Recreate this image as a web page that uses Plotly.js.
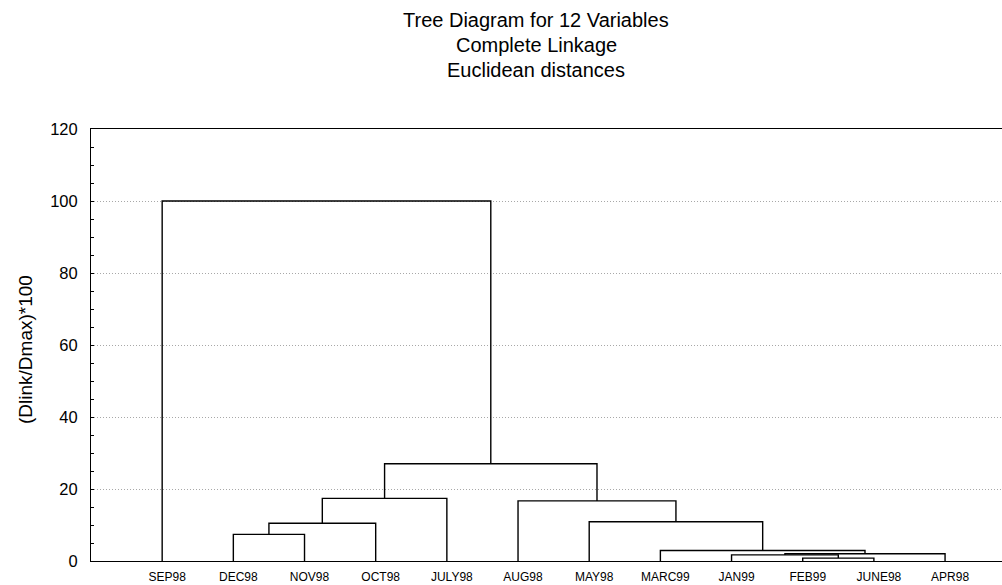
<!DOCTYPE html>
<html>
<head>
<meta charset="utf-8">
<script src="https://cdn.plot.ly/plotly-3.0.1.min.js"></script>
<style>html,body{margin:0;padding:0;background:#fff;}</style>
</head>
<body>
<div id="chart" style="width:1002px;height:585px;"></div>
<script>
// Leaf order along the x axis (as drawn)
const leafLabels = ['SEP98','DEC98','NOV98','OCT98','JULY98','AUG98','MAY98','MARC99','JAN99','FEB99','JUNE98','APR98'];
// Merges: ids 0..11 are leaves (by position), 12+ are clusters in merge order
const mergeLeft   = [9, 8, 13, 7, 1, 16, 6, 5, 17, 20, 0];
const mergeRight  = [10, 12, 11, 14, 2, 3, 15, 18, 4, 19, 21];
const mergeHeight = [0.8, 1.7, 2.0, 2.9, 7.4, 10.5, 10.9, 16.7, 17.4, 27.0, 100.0];

const tickVals = [0, 20, 40, 60, 80, 100, 120];

const nodeX = [], nodeH = [];
leafLabels.forEach((l, i) => { nodeX.push(i + 1); nodeH.push(0); });
const traces = [];
for (let k = 0; k < mergeHeight.length; k++) {
  const a = mergeLeft[k], b = mergeRight[k], h = mergeHeight[k];
  traces.push({
    type: 'scatter', mode: 'lines',
    x: [nodeX[a], nodeX[a], nodeX[b], nodeX[b]],
    y: [nodeH[a], h, h, nodeH[b]],
    line: {color: '#000', width: 1.4},
    hoverinfo: 'skip', showlegend: false
  });
  nodeX.push((nodeX[a] + nodeX[b]) / 2);
  nodeH.push(h);
}

const titleFont = {family: 'Liberation Sans, Arial, sans-serif', size: 20, color: '#000'};
const layout = {
  width: 1002, height: 585,
  margin: {l: 91, r: 0, t: 129, b: 24, pad: 0},
  paper_bgcolor: '#fff', plot_bgcolor: '#fff',
  showlegend: false,
  xaxis: {
    range: [0, 12.8], tickmode: 'array',
    tickvals: leafLabels.map((l, i) => i + 1), ticktext: leafLabels,
    showgrid: false, zeroline: false, showline: true, mirror: true,
    linecolor: '#000', linewidth: 1, ticks: '',
    ticklabelstandoff: 5, ticklabelshift: 5,
    tickfont: {family: 'Liberation Sans, Arial, sans-serif', size: 12, color: '#000'}
  },
  yaxis: {
    range: [0, 120], tickmode: 'array', tickvals: tickVals,
    showgrid: true, gridcolor: '#a8a8a8', griddash: '1px,2px', gridwidth: 1,
    zeroline: false, showline: true, mirror: false, linecolor: '#000', linewidth: 1,
    ticks: 'inside', ticklen: 3, tickcolor: '#000',
    minor: {dtick: 5, ticks: 'inside', ticklen: 3, tickcolor: '#000', showgrid: false},
    ticklabelstandoff: 9,
    tickfont: {family: 'Liberation Sans, Arial, sans-serif', size: 16.5, color: '#000'}
  },
  annotations: [
    {text: 'Tree Diagram for 12 Variables', xref: 'paper', yref: 'paper', x: 0.4885, y: (561 - 20) / 432, xanchor: 'center', yanchor: 'middle', showarrow: false, font: titleFont},
    {text: 'Complete Linkage', xref: 'paper', yref: 'paper', x: 0.4885, y: (561 - 45) / 432, xanchor: 'center', yanchor: 'middle', showarrow: false, font: titleFont},
    {text: 'Euclidean distances', xref: 'paper', yref: 'paper', x: 0.4885, y: (561 - 70) / 432, xanchor: 'center', yanchor: 'middle', showarrow: false, font: titleFont},
    {text: '(Dlink/Dmax)*100', xref: 'paper', yref: 'paper', x: (25 - 91) / 911, y: (561 - 350) / 432, xanchor: 'center', yanchor: 'middle', textangle: -90, showarrow: false,
     font: {family: 'Liberation Sans, Arial, sans-serif', size: 19, color: '#000'}}
  ]
};
Plotly.newPlot('chart', traces, layout, {displayModeBar: false, staticPlot: true});
</script>
</body>
</html>
